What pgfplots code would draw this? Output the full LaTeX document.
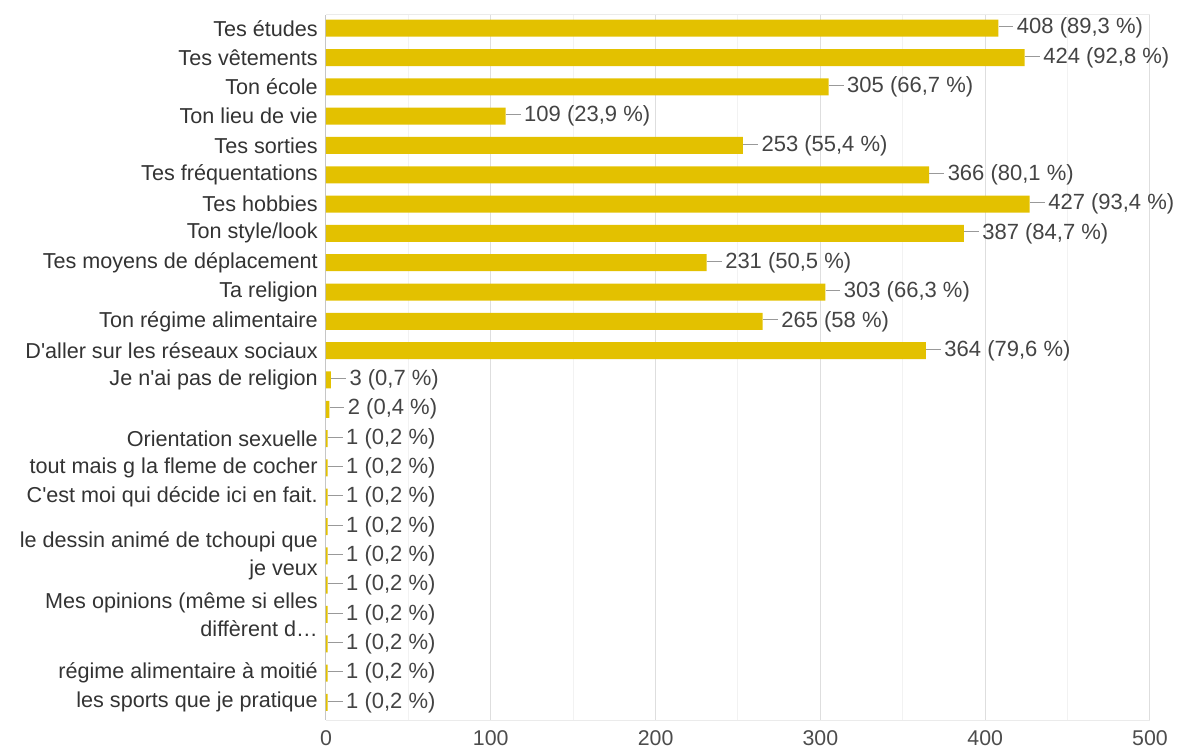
\documentclass[border=0pt]{standalone}
\usepackage{fontspec}
\setmainfont{Liberation Sans}
\usepackage{pgfplots}
\pgfplotsset{compat=1.18}
\definecolor{barjaune}{HTML}{E3C100}
\definecolor{texte}{HTML}{333333}
\definecolor{valeur}{HTML}{444444}

\begin{document}
\begin{tikzpicture}
\useasboundingbox (-244.5pt,-27pt) rectangle (639.75pt,540pt);
\begin{axis}[
  at={(0pt,0pt)}, anchor=south west,
  scale only axis, width=618pt, height=528.75pt,
  xbar, bar width=12.75pt,
  xmin=0, xmax=500, ymin=0.55, ymax=24.6, y dir=reverse,
  axis line style={draw=none},
  xtick={0,100,...,500}, minor x tick num=1,
  xmajorgrids, xminorgrids,
  major grid style={draw=black!13, line width=0.75pt},
  minor grid style={draw=black!5, line width=0.75pt},
  major tick length=0pt, minor tick length=0pt,
  ytick={1,...,24},
  yticklabels={Tes études, Tes vêtements, Ton école, Ton lieu de vie,
    Tes sorties, Tes fréquentations, Tes hobbies, Ton style/look,
    Tes moyens de déplacement, Ta religion, Ton régime alimentaire,
    D\textquotesingle aller sur les réseaux sociaux,
    Je n\textquotesingle ai pas de religion, {}, Orientation sexuelle,
    tout mais g la fleme de cocher, C\textquotesingle est moi qui décide ici en fait.,
    {}, {le dessin animé de tchoupi que\\je veux}, {},
    {Mes opinions (même si elles\\diffèrent d…}, {},
    régime alimentaire à moitié, les sports que je pratique},
  yticklabel style={font=\fontsize{16.2}{21}\selectfont, text=texte,
    align=right, anchor=east, inner sep=0pt, xshift=-6pt},
  xticklabel style={font=\fontsize{16}{19}\selectfont, text=black!70,
    anchor=north, inner sep=0pt, yshift=-8pt},
  /pgf/number format/assume math mode=true,
  point meta=explicit symbolic,
  nodes near coords={\textcolor{black!40}{\rule[0.3em]{11pt}{0.75pt}}\,\pgfplotspointmeta},
  every node near coord/.append style={anchor=west, inner sep=0pt,
    font=\fontsize{16.5}{19}\selectfont, text=valeur},
]
\addplot[fill=barjaune, draw=none] coordinates {
  (408,1) [408 (89,3~\%)]
  (424,2) [424 (92,8~\%)]
  (305,3) [305 (66,7~\%)]
  (109,4) [109 (23,9~\%)]
  (253,5) [253 (55,4~\%)]
  (366,6) [366 (80,1~\%)]
  (427,7) [427 (93,4~\%)]
  (387,8) [387 (84,7~\%)]
  (231,9) [231 (50,5~\%)]
  (303,10) [303 (66,3~\%)]
  (265,11) [265 (58~\%)]
  (364,12) [364 (79,6~\%)]
  (3,13) [3 (0,7~\%)]
  (2,14) [2 (0,4~\%)]
  (1,15) [1 (0,2~\%)]
  (1,16) [1 (0,2~\%)]
  (1,17) [1 (0,2~\%)]
  (1,18) [1 (0,2~\%)]
  (1,19) [1 (0,2~\%)]
  (1,20) [1 (0,2~\%)]
  (1,21) [1 (0,2~\%)]
  (1,22) [1 (0,2~\%)]
  (1,23) [1 (0,2~\%)]
  (1,24) [1 (0,2~\%)]
};
\draw[black!8, line width=0.75pt] (rel axis cs:0,0) -- (rel axis cs:1,0);
\draw[black!8, line width=0.75pt] (rel axis cs:0,1) -- (rel axis cs:1,1);
\draw[black!85, line width=0.75pt] (rel axis cs:0,0) -- (rel axis cs:0,1);
\end{axis}
\end{tikzpicture}
\end{document}
